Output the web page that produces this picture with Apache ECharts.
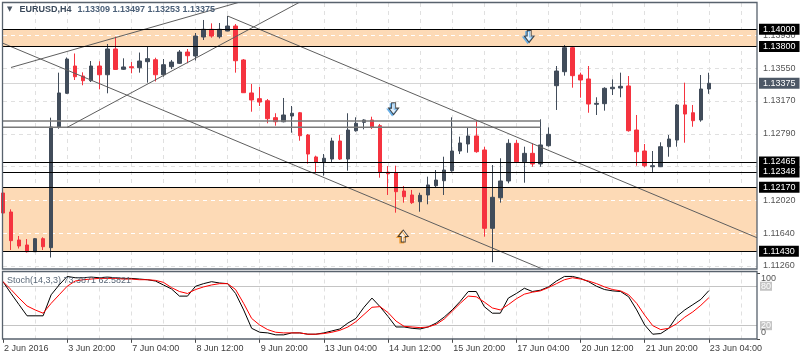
<!DOCTYPE html>
<html><head><meta charset="utf-8">
<script src="https://cdn.jsdelivr.net/npm/echarts@6/dist/echarts.min.js"></script>
<style>html,body{margin:0;padding:0;background:#fff}#c{width:800px;height:360px}</style>
</head><body><div id="c"></div>
<script>
const symbolName = 'EURUSD,H4';
const open  = [1.12105,1.11885,1.11561,1.11503,1.11425,1.11576,1.11472,1.12865,1.13259,1.13575,1.13459,1.13405,1.13575,1.13474,1.13772,1.13537,1.13567,1.13555,1.13625,1.13648,1.13474,1.13567,1.13606,1.13737,1.13691,1.13911,1.14000,1.13914,1.13980,1.14038,1.13645,1.13263,1.13197,1.13173,1.12977,1.12930,1.12996,1.13034,1.12776,1.12522,1.12460,1.12498,1.12707,1.12498,1.12826,1.12923,1.12950,1.12884,1.12345,1.12340,1.12128,1.12082,1.12004,1.12082,1.12189,1.12247,1.12363,1.12591,1.12672,1.12765,1.12603,1.11696,1.12050,1.12244,1.12680,1.12467,1.12564,1.12441,1.12652,1.13347,1.13509,1.13787,1.13471,1.13425,1.13132,1.13139,1.13312,1.13320,1.13344,1.12834,1.12591,1.12409,1.12409,1.12641,1.12718,1.13124,1.13034,1.12950,1.13309];
const high  = [1.12163,1.11916,1.11607,1.11572,1.11584,1.11592,1.12977,1.13498,1.13674,1.13720,1.13502,1.13633,1.13630,1.13830,1.13914,1.13664,1.13621,1.13731,1.13799,1.13671,1.13656,1.13645,1.13760,1.13772,1.13957,1.14108,1.14069,1.14073,1.14154,1.14061,1.13656,1.13367,1.13332,1.13193,1.13028,1.13205,1.13112,1.13043,1.12788,1.12537,1.12556,1.12745,1.12776,1.13028,1.12981,1.12958,1.12988,1.12904,1.12417,1.12421,1.12186,1.12140,1.12108,1.12294,1.12371,1.12525,1.12981,1.12757,1.12865,1.12950,1.12641,1.12429,1.12507,1.12727,1.12718,1.12641,1.12680,1.12958,1.12865,1.13575,1.13818,1.13807,1.13498,1.13575,1.13213,1.13329,1.13421,1.13498,1.13459,1.13008,1.12672,1.12591,1.12692,1.12776,1.13135,1.13382,1.13124,1.13471,1.13497];
const low   = [1.11642,1.11445,1.11462,1.11416,1.11422,1.11445,1.11358,1.12849,1.13251,1.13413,1.13352,1.13390,1.13305,1.13259,1.13529,1.13529,1.13491,1.13498,1.13382,1.13396,1.13451,1.13540,1.13598,1.13606,1.13639,1.13876,1.13903,1.13894,1.13977,1.13498,1.13263,1.13046,1.13112,1.12912,1.12884,1.12923,1.12803,1.12710,1.12444,1.12333,1.12305,1.12464,1.12487,1.12363,1.12815,1.12842,1.12846,1.12282,1.12082,1.11877,1.11993,1.11978,1.11888,1.11974,1.12166,1.12082,1.12351,1.12556,1.12571,1.12571,1.11599,1.11303,1.11993,1.12217,1.12460,1.12224,1.12409,1.12409,1.12641,1.13066,1.13463,1.13324,1.13208,1.13034,1.13008,1.13058,1.13239,1.13213,1.12815,1.12421,1.12402,1.12345,1.12405,1.12525,1.12641,1.12687,1.12872,1.12930,1.13253];
const close = [1.11873,1.11553,1.11491,1.11425,1.11576,1.11483,1.12869,1.13263,1.13656,1.13451,1.13405,1.13575,1.13474,1.13772,1.13535,1.13564,1.13555,1.13633,1.13660,1.13474,1.13590,1.13621,1.13737,1.13694,1.13922,1.14000,1.13922,1.14000,1.14038,1.13636,1.13266,1.13182,1.13158,1.12965,1.12930,1.13008,1.13028,1.12768,1.12556,1.12460,1.12507,1.12707,1.12498,1.12834,1.12912,1.12950,1.12865,1.12345,1.12328,1.12120,1.12062,1.11993,1.12078,1.12198,1.12255,1.12371,1.12591,1.12684,1.12765,1.12583,1.11696,1.12055,1.12244,1.12680,1.12467,1.12564,1.12441,1.12661,1.12784,1.13517,1.13787,1.13463,1.13413,1.13135,1.13143,1.13317,1.13329,1.13340,1.12826,1.12583,1.12421,1.12421,1.12641,1.12730,1.13124,1.13019,1.12942,1.13309,1.13375];
const stochK = [87,69,52,35,35,35,67,82,95,93,93,94,93,94,93,92,92,91,90,88,82,76,65,65,80,84,87,85,84,69,44,16,10,9,6,6,9,9,7,7,9,12,15,24,31,48,62,49,34,18,18,16,15,18,24,33,44,57,72,72,49,39,39,62,69,77,72,74,79,88,95,95,92,87,80,75,73,72,64,44,21,7,8,16,34,44,52,60,73.3871];
const stochD = [87,75,62,50,44,39,54,67,80,88,90,91,92,92,92,91,91,90,90,89,86,78,72,69,75,79,82,84,84,75,54,31,21,14,10,9,9,9,7,7,8,10,13,18,26,37,48,49,40,27,19,18,17,18,22,30,42,54,65,64,56,47,44,52,61,68,71,73,78,84,90,93,91,88,84,79,75,73,67,54,36,20,14,16,23,33,41,51,62.5821];
const tickLabels = ['2 Jun 2016','3 Jun 20:00','7 Jun 04:00','8 Jun 12:00','9 Jun 20:00','13 Jun 04:00','14 Jun 12:00','15 Jun 20:00','17 Jun 04:00','20 Jun 12:00','21 Jun 20:00','23 Jun 04:00'];
const priceTicks = [1.13930,1.13550,1.13170,1.12790,1.12020,1.11640,1.11260];
const gridPrices = [1.13930,1.13550,1.13170,1.12790,1.12410,1.12020,1.11640,1.11260];
const levels = [1.14000,1.13800,1.12465,1.12348,1.12170,1.11430];
const zones = [[1.14000,1.13800],[1.12170,1.11430]];
const greyLevels = [1.12938,1.12865];
const greyLevelSpan = [-1, 67];
const trendlines = [
  [[1,1.13558],[30,1.14328]],
  [[8,1.12865],[38,1.14365]],
  [[0,1.13838],[68,1.11196]],
  [[28,1.14154],[94,1.11587]]
];
const downArrows = [[65.6,1.13917],[48.7,1.13081]];
const upArrows = [[49.9,1.11607]];
const stochLevels = [80,20];
const stochScaleLabels = [100, 0];

const SLOTS = 95;
const slots = Array.from({length: SLOTS}, (_, i) => String(i));
const candles = open.map((o, i) => [o, close[i], low[i], high[i]]);
const last = open.length - 1;
const FONT = 'Liberation Sans';
const BULL = '#414c5a', BEAR = '#f5333f';
const fmt = v => v.toFixed(5);
const inZone = v => zones.some(z => v <= Math.max(z[0], z[1]) && v >= Math.min(z[0], z[1]));
const gridEvery = 4, labelEvery = 8;
const vSplit = {show: true, interval: i => i > 0 && i % gridEvery === 0, lineStyle: {color: '#e0e0e0', type: [4, 4], width: 1}};
const boxLabel = (bg, fg) => ({show: true, position: 'end', distance: 2, formatter: p => fmt(p.value), color: fg, backgroundColor: bg, padding: [1, 4, 0, 4], fontSize: 9, lineHeight: 10, fontFamily: FONT});

const chart = echarts.init(document.getElementById('c'));
const frame = [
  {type: 'rect', z: 100, silent: true, shape: {x: 2.5, y: 2.5, width: 754.5, height: 266.5}, style: {fill: 'none', stroke: '#58626d', lineWidth: 1.3}},
  {type: 'rect', z: 100, silent: true, shape: {x: 2.5, y: 271.5, width: 754.5, height: 67.5}, style: {fill: 'none', stroke: '#58626d', lineWidth: 1.3}}
];
const option = {
  animation: false,
  backgroundColor: '#fff',
  title: [
    {left: 5, top: 5, padding: 0, text: `{tri|▼}{name|${symbolName}}{val|${fmt(open[last])} ${fmt(high[last])} ${fmt(low[last])} ${fmt(close[last])}}`,
     textStyle: {rich: {
       tri: {fontFamily: 'DejaVu Sans', fontSize: 7, color: '#4a5563', padding: [0, 7, 0, 2]},
       name: {fontFamily: FONT, fontSize: 9, color: '#3b4a5c'},
       val: {fontFamily: FONT, fontSize: 9, color: '#4b6079', padding: [0, 0, 0, 6]}}}},
    {left: 7, top: 276, padding: 0, text: `Stoch(14,3,3) ${stochK[last].toFixed(4)} ${stochD[last].toFixed(4)}`,
     textStyle: {fontFamily: FONT, fontSize: 9, color: '#5a6878', fontWeight: 'normal'}}
  ],
  grid: [
    {left: 3, top: 3, width: 754, height: 266},
    {left: 3, top: 271.5, width: 754, height: 67.5}
  ],
  xAxis: [
    {type: 'category', gridIndex: 0, data: slots, boundaryGap: false, axisLine: {show: false}, axisTick: {show: false}, axisLabel: {show: false}, splitLine: vSplit},
    {type: 'value', gridIndex: 0, min: 0, max: SLOTS - 1, show: false},
    {type: 'category', gridIndex: 1, data: slots, boundaryGap: false, axisLine: {show: false},
     axisTick: {show: true, interval: i => i % labelEvery === 0, length: 4, lineStyle: {color: '#4a4a4a'}},
     axisLabel: {interval: i => i % labelEvery === 0, formatter: (v, i) => tickLabels[i / labelEvery] || '', align: 'left', margin: 5, fontFamily: FONT, fontSize: 9, color: '#3d3d3d', padding: [0, 0, 0, 1]},
     splitLine: vSplit}
  ],
  yAxis: [
    {type: 'value', gridIndex: 0, position: 'right', min: 1.11225, max: 1.143045, splitLine: {show: false}, axisLine: {show: false},
     axisTick: {show: true, customValues: [...priceTicks, ...levels, close[last]], length: 3, lineStyle: {color: '#444'}},
     axisLabel: {customValues: priceTicks, formatter: v => fmt(v), fontFamily: FONT, fontSize: 9, color: '#555', margin: 6}},
    {type: 'value', gridIndex: 1, position: 'right', min: -0.3, max: 102.5, splitLine: {show: false}, axisLine: {show: false},
     axisTick: {show: true, customValues: stochScaleLabels, length: 3, lineStyle: {color: '#444'}},
     axisLabel: {show: false}}
  ],
  series: [
    {type: 'line', xAxisIndex: 0, yAxisIndex: 0, data: [], silent: true,
     markLine: {silent: true, z: 1.5, symbol: 'none', animation: false, precision: 5,
       data: [
         ...gridPrices.map(v => ({yAxis: v, lineStyle: {color: inZone(v) ? '#ffffff' : '#e0e0e0', type: [4, 4], width: 1}, label: {show: false}})),
         {yAxis: close[last], lineStyle: {color: '#d6d6d6', type: 'solid', width: 1}, label: boxLabel('#4d5866', '#fff')}
       ]}},
    {type: 'candlestick', xAxisIndex: 0, yAxisIndex: 0, data: candles, barWidth: 4, z: 2,
     itemStyle: {color: BULL, color0: BEAR, borderColor: BULL, borderColor0: BEAR, borderWidth: 1},
     markArea: {silent: true, z: 1, precision: 5, itemStyle: {color: '#fddab6', borderWidth: 0}, label: {show: false},
       data: zones.map(z => [{yAxis: z[0]}, {yAxis: z[1]}])},
     markLine: {silent: true, z: 5, symbol: 'none', animation: false, precision: 5,
       data: levels.map(v => ({yAxis: v, lineStyle: {color: '#000', width: 1, type: 'solid'}, label: boxLabel('#000', '#fff')}))}},
    ...greyLevels.map(p => ({type: 'line', xAxisIndex: 1, yAxisIndex: 0, silent: true, z: 3, symbol: 'none',
      data: greyLevelSpan.map(x => [x, p]), lineStyle: {color: '#7a7a7a', width: 1.5}})),
    ...trendlines.map(t => ({type: 'line', xAxisIndex: 1, yAxisIndex: 0, silent: true, z: 3, symbol: 'none',
      data: t, lineStyle: {color: '#5e5e5e', width: 1}})),
    {type: 'scatter', xAxisIndex: 1, yAxisIndex: 0, silent: true, z: 6, data: downArrows,
     symbol: 'path://M3,0L7,0L7,5L10,5L5,11L0,5L3,5Z', symbolSize: [10, 12],
     itemStyle: {color: '#fff', borderColor: '#1e1e1e', borderWidth: 1, shadowColor: '#56a8e8', shadowOffsetX: -1.5, shadowOffsetY: 1, shadowBlur: 0}},
    {type: 'scatter', xAxisIndex: 1, yAxisIndex: 0, silent: true, z: 6, data: upArrows,
     symbol: 'path://M5,0L10,6L7,6L7,11L3,11L3,6L0,6Z', symbolSize: [10, 12],
     itemStyle: {color: '#fff', borderColor: '#1e1e1e', borderWidth: 1, shadowColor: '#f39a2c', shadowOffsetX: -1.5, shadowOffsetY: 1, shadowBlur: 0}},
    {type: 'line', xAxisIndex: 2, yAxisIndex: 1, data: stochK, symbol: 'none', silent: true, z: 3, lineStyle: {color: '#000', width: 1},
     markLine: {silent: true, z: 1, symbol: 'none', animation: false, precision: 0,
       data: stochLevels.map(v => ({yAxis: v})), lineStyle: {color: '#c4c4c4', width: 1, type: 'solid'},
       label: {show: true, position: 'end', distance: 3, formatter: p => String(p.value), backgroundColor: '#c4c4c4', color: '#fff', fontSize: 9, fontFamily: FONT, padding: [0, 1, 0, 1], lineHeight: 9}}},
    {type: 'line', xAxisIndex: 2, yAxisIndex: 1, data: stochD, symbol: 'none', silent: true, z: 3, lineStyle: {color: '#ff0000', width: 1}}
  ],
  graphic: frame
};
chart.setOption(option);
// stochastic scale labels (100 / 0), placed through the axis scale, nudged inside the panel like the terminal does
const scaleLabels = stochScaleLabels.map(v => {
  const y = chart.convertToPixel({yAxisIndex: 1}, v);
  return {type: 'text', z: 50, silent: true, x: 761, y: v === 100 ? y + 5 : y - 6,
    style: {text: String(v), fill: '#555', font: `9px "${FONT}"`, textVerticalAlign: 'middle', verticalAlign: 'middle'}};
});
chart.setOption({graphic: [...frame, ...scaleLabels]});
</script>
</body></html>
